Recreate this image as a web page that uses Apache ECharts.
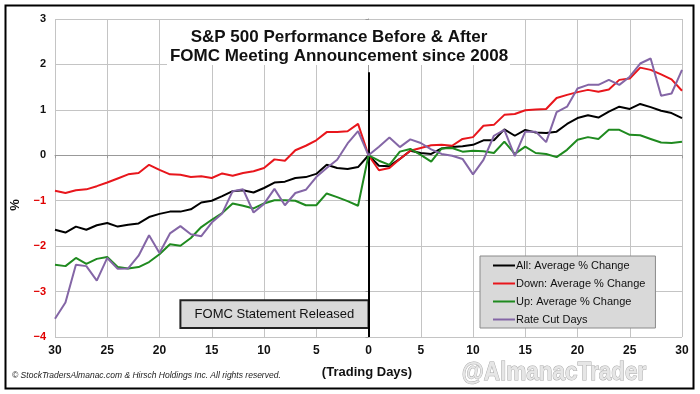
<!DOCTYPE html>
<html><head><meta charset="utf-8">
<script src="https://cdn.jsdelivr.net/npm/echarts@6/dist/echarts.min.js"></script>
<style>html,body{margin:0;padding:0;background:#fff}#c{width:700px;height:394px}</style>
</head><body><div id="c"></div>
<script>
const days = [-30,-29,-28,-27,-26,-25,-24,-23,-22,-21,-20,-19,-18,-17,-16,-15,-14,-13,-12,-11,-10,-9,-8,-7,-6,-5,-4,-3,-2,-1,0,
  1,2,3,4,5,6,7,8,9,10,11,12,13,14,15,16,17,18,19,20,21,22,23,24,25,26,27,28,29,30];
const allAvg = [-1.64,-1.70,-1.57,-1.64,-1.54,-1.49,-1.57,-1.53,-1.50,-1.36,-1.29,-1.24,-1.24,-1.19,-1.04,
  -1.00,-0.90,-0.79,-0.77,-0.82,-0.72,-0.60,-0.58,-0.50,-0.48,-0.41,-0.21,-0.28,-0.30,-0.26,
  0,
  -0.23,-0.24,-0.08,0.10,0.05,0.03,0.15,0.18,0.20,0.23,0.33,0.33,0.57,0.43,0.56,
  0.50,0.49,0.52,0.69,0.82,0.88,0.83,0.96,1.07,1.02,1.13,1.06,0.98,0.93,0.82];
const downAvg = [-0.78,-0.83,-0.77,-0.75,-0.68,-0.60,-0.51,-0.42,-0.39,-0.21,-0.32,-0.42,-0.43,-0.48,-0.46,
  -0.50,-0.40,-0.45,-0.39,-0.35,-0.28,-0.09,-0.12,0.11,0.21,0.33,0.51,0.51,0.53,0.69,
  0,
  -0.33,-0.28,-0.08,0.10,0.16,0.22,0.23,0.21,0.36,0.40,0.65,0.67,0.89,0.91,0.99,
  1.01,1.02,1.26,1.33,1.39,1.44,1.40,1.45,1.66,1.69,1.93,1.88,1.78,1.67,1.42];
const upAvg = [-2.41,-2.44,-2.26,-2.39,-2.28,-2.24,-2.46,-2.49,-2.46,-2.35,-2.18,-1.96,-1.99,-1.82,-1.58,
  -1.42,-1.27,-1.06,-1.11,-1.17,-1.06,-0.99,-0.99,-1.00,-1.10,-1.10,-0.84,-0.92,-1.01,-1.11,
  0,
  -0.12,-0.21,0.08,0.14,0.01,-0.14,0.15,0.16,0.08,0.10,0.09,0.05,0.30,0.03,0.19,
  0.05,0.03,-0.04,0.12,0.34,0.40,0.36,0.56,0.56,0.45,0.44,0.36,0.28,0.27,0.30];
const rateCut = [-3.60,-3.24,-2.41,-2.44,-2.76,-2.26,-2.50,-2.49,-2.21,-1.76,-2.15,-1.72,-1.56,-1.74,-1.78,
  -1.48,-1.28,-0.79,-0.75,-1.26,-1.07,-0.74,-1.10,-0.83,-0.76,-0.48,-0.28,-0.10,0.26,0.53,
  0,
  0.19,0.39,0.18,0.35,0.27,0.13,0.03,-0.01,-0.08,-0.42,-0.10,0.43,0.56,-0.02,0.52,
  0.52,0.29,0.95,1.07,1.47,1.55,1.55,1.66,1.55,1.73,2.02,2.13,1.31,1.36,1.88];
const seriesNames = ['All: Average % Change','Down: Average % Change','Up: Average % Change','Rate Cut Days'];
const seriesColors = ['#000000','#e8161c','#1f8a1f','#8466a6'];
const xTicks = [-30,-25,-20,-15,-10,-5,0,5,10,15,20,25,30];
const yTicks = [-4,-3,-2,-1,0,1,2,3];
const titleLines = ['S&P 500 Performance Before & After','FOMC Meeting Announcement since 2008'];

function pairs(vals){ return days.map((d,i)=>[d, vals[i]]); }
const font = 'Liberation Sans, Arial, sans-serif';

const chart = echarts.init(document.getElementById('c'), null, {renderer:'canvas'});
const series = [allAvg, downAvg, upAvg, rateCut].map((vals, i) => ({
  name: seriesNames[i], type: 'line', data: pairs(vals), symbol: 'none', showSymbol: false,
  lineStyle: {color: seriesColors[i], width: 2}, itemStyle: {color: seriesColors[i]},
  z: 3 + i, animation: false
}));
series[0].markLine = {
  silent: true, symbol: 'none', label: {show: false},
  lineStyle: {color: '#000', width: 2, type: 'solid'},
  data: [[{coord: [0, -4]}, {coord: [0, 1.83]}]]
};
series[2].markArea = {
  silent: true,
  itemStyle: {color: '#d9d9d9', borderColor: '#222', borderWidth: 2},
  label: {show: true, position: 'inside', color: '#111', fontSize: 13, fontFamily: font},
  data: [[{coord: [-18, -3.19], name: 'FOMC Statement Released'}, {coord: [0, -3.8]}]]
};

chart.setOption({
  animation: false,
  backgroundColor: '#fff',
  grid: {left: 55, right: 18, top: 19, bottom: 57},
  xAxis: {
    type: 'value', min: -30, max: 30, interval: 5,
    axisLine: {show: true, lineStyle: {color: '#999', width: 1}},
    axisTick: {show: true, length: 3, lineStyle: {color: '#999'}},
    splitLine: {show: true, lineStyle: {color: '#c4c4c4', width: 1}},
    axisLabel: {formatter: v => String(Math.abs(v)), color: '#111', fontWeight: 'bold', fontSize: 12, fontFamily: font, margin: 8}
  },
  yAxis: {
    type: 'value', min: -4, max: 3, interval: 1,
    axisLine: {show: true, lineStyle: {color: '#999', width: 1}},
    axisTick: {show: true, length: 3, lineStyle: {color: '#999'}},
    splitLine: {show: true, lineStyle: {color: '#c4c4c4', width: 1}},
    axisLabel: {
      formatter: v => (v < 0 ? '\u2212' + Math.abs(v) : String(v)),
      color: (v) => (Number(v) < 0 ? '#e00000' : '#111'),
      fontWeight: 'bold', fontSize: 11, fontFamily: font, margin: 9
    }
  },
  legend: {
    data: seriesNames, orient: 'vertical', left: 480, top: 256,
    backgroundColor: '#d9d9d9', borderColor: '#8a8a8a', borderWidth: 1,
    padding: [4, 10, 3, 13], itemWidth: 22, itemHeight: 12, itemGap: 7,
    textStyle: {fontSize: 11, color: '#111', fontFamily: font, padding: [0,0,0,-4]},
    icon: 'path://M0,5 L22,5 L22,7 L0,7 Z', selectedMode: false
  },
  series: series,
  graphic: [
    {type: 'rect', shape: {x: 167, y: 20, width: 343, height: 45}, style: {fill: '#fff'}, z: 10, silent: true},
    {type: 'text', x: 339, y: 37, style: {text: titleLines[0], font: 'bold 17px ' + font, fill: '#111', align: 'center', verticalAlign: 'middle'}, z: 11},
    {type: 'text', x: 339, y: 56, style: {text: titleLines[1], font: 'bold 17px ' + font, fill: '#111', align: 'center', verticalAlign: 'middle'}, z: 11},
    {type: 'text', x: 15, y: 205, rotation: Math.PI/2, style: {text: '%', font: 'bold 13px ' + font, fill: '#111', align: 'center', verticalAlign: 'middle'}},
    {type: 'text', x: 367, y: 372, style: {text: '(Trading Days)', font: 'bold 13px ' + font, fill: '#111', align: 'center', verticalAlign: 'middle'}},
    {type: 'text', x: 12, y: 376, style: {text: '\u00a9 StockTradersAlmanac.com & Hirsch Holdings Inc. All rights reserved.', font: 'italic 8.5px ' + font, fill: '#222', align: 'left', verticalAlign: 'middle'}},
    {type: 'text', x: 554, y: 373, scaleX: 0.9, originX: 0, originY: 0, style: {text: '@AlmanacTrader', font: 'bold 25px Liberation Sans Narrow, Arial Narrow, sans-serif', fill: '#e6e6e6', stroke: '#a8a8a8', lineWidth: 1, align: 'center', verticalAlign: 'middle'}},
    {type: 'rect', shape: {x: 5.5, y: 5.5, width: 688, height: 383}, style: {fill: 'none', stroke: '#000', lineWidth: 2}, silent: true}
  ]
});
</script></body></html>
